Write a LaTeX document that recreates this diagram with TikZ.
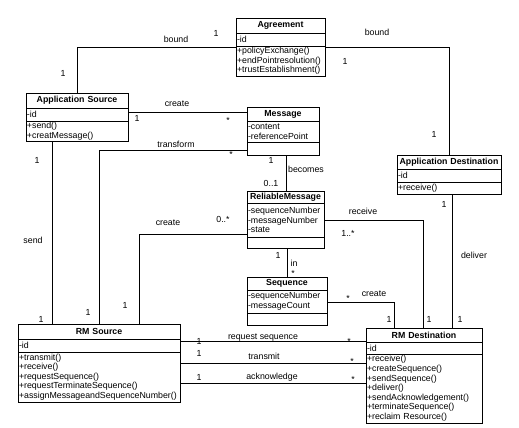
\documentclass[tikz,border=0pt]{standalone}
\usepackage{fontspec}
\setmainfont{Liberation Sans}
\usepackage{tikz}

\begin{document}
\begin{tikzpicture}[x=1pt, y=-1pt,
  every node/.style={outer sep=0pt, font=\fontsize{8.8}{9.6}\selectfont},
  head/.style={draw, line width=0.9pt, anchor=north west, inner sep=1pt, align=center, font=\bfseries\fontsize{8.8}{9.6}\selectfont},
  part/.style={draw, line width=0.9pt, anchor=north west, inner sep=1pt, align=left},
  lbl/.style={inner sep=0pt},
  link/.style={line width=0.7pt}]
\useasboundingbox (0,0) rectangle (519,428);

% classes
\node[head, text width=87pt, minimum height=15pt] (agr) at (236,18) {Agreement};
\node[part, text width=87pt, minimum height=13pt] (agr-a) at (agr.south west) {-id};
\node[part, text width=87pt, minimum height=30pt] (agr-m) at (agr-a.south west) {+policyExchange()\\+endPointresolution()\\+trustEstablishment()};

\node[head, text width=100pt, minimum height=15pt] (aps) at (26,93) {Application Source};
\node[part, text width=100pt, minimum height=13pt] (aps-a) at (aps.south west) {-id};
\node[part, text width=100pt, minimum height=20pt] (aps-m) at (aps-a.south west) {+send()\\+creatMessage()};

\node[head, text width=70pt, minimum height=14pt] (msg) at (247,107) {Message};
\node[part, text width=70pt, minimum height=21pt] (msg-a) at (msg.south west) {-content\\-referencePoint};
\node[part, text width=70pt, minimum height=13pt] (msg-m) at (msg-a.south west) {};

\node[head, text width=102pt, minimum height=14pt] (apd) at (397,155) {Application Destination};
\node[part, text width=102pt, minimum height=13pt] (apd-a) at (apd.south west) {-id};
\node[part, text width=102pt, minimum height=12pt] (apd-m) at (apd-a.south west) {+receive()};

\node[head, text width=75pt, minimum height=12pt] (rm) at (247,191) {ReliableMessage};
\node[part, text width=75pt, minimum height=34pt] (rm-a) at (rm.south west) {-sequenceNumber\\-messageNumber\\-state};
\node[part, text width=75pt, minimum height=11pt] (rm-m) at (rm-a.south west) {};

\node[head, text width=78pt, minimum height=13pt] (seq) at (247,277) {Sequence};
\node[part, text width=78pt, minimum height=23pt] (seq-a) at (seq.south west) {-sequenceNumber\\-messageCount};
\node[part, text width=78pt, minimum height=12pt] (seq-m) at (seq-a.south west) {};

\node[head, text width=160pt, minimum height=15pt] (rms) at (18,324) {RM Source};
\node[part, text width=160pt, minimum height=13pt] (rms-a) at (rms.south west) {-id};
\node[part, text width=160pt, minimum height=50pt] (rms-m) at (rms-a.south west) {+transmit()\\+receive()\\+requestSequence()\\+requestTerminateSequence()\\+assignMessageandSequenceNumber()};

\node[head, text width=114pt, minimum height=14pt] (rmd) at (366,328) {RM Destination};
\node[part, text width=114pt, minimum height=12pt] (rmd-a) at (rmd.south west) {-id};
\node[part, text width=114pt, minimum height=69pt] (rmd-m) at (rmd-a.south west) {+receive()\\+createSequence()\\+sendSequence()\\+deliver()\\+sendAcknowledgement()\\+terminateSequence()\\+reclaim Resource()};

% associations
\draw[link] (agr-m.west |- 0,47) -| (aps.north -| 77,0);
\draw[link] (agr-m.east |- 0,47) -| (apd.north -| 449,0);
\draw[link] (aps-a.east |- 0,112) -- (msg.west |- 0,112);
\draw[link] (msg-m.west |- 0,150) -| (rms.north -| 99,0);
\draw[link] (aps-m.south -| 52,0) -- (rms.north -| 52,0);
\draw[link] (rm-a.west |- 0,234) -| (rms.north -| 139,0);
\draw[link] (msg-m.south -| 286,0) -- (rm.north -| 286,0);
\draw[link] (rm-m.south -| 287,0) -- (seq.north -| 287,0);
\draw[link] (rm-a.east |- 0,220) -| (rmd.north -| 423,0);
\draw[link] (seq-a.east |- 0,302) -| (rmd.north -| 394,0);
\draw[link] (apd-m.south -| 452,0) -- (rmd.north -| 452,0);
\draw[link] (rms-a.east |- 0,341) -- (rmd.west |- 0,341);
\draw[link] (rms-m.east |- 0,363) -- (rmd-m.west |- 0,363);
\draw[link] (rms-m.east |- 0,383) -- (rmd-m.west |- 0,383);

% labels
\node[lbl] (b1) at (176,39) {bound};
\node[lbl] (b1s) at (216,33) {1};
\node[lbl] (b1t) at (63,73) {1};
\node[lbl] (b2) at (377,32) {bound};
\node[lbl] (b2s) at (345,61) {1};
\node[lbl] (b2t) at (434,134) {1};
\node[lbl] (c1) at (177,104) {create};
\node[lbl] (c1s) at (137,118) {1};
\node[lbl] (c1t) at (228,120) {*};
\node[lbl] (tf) at (176,144) {transform};
\node[lbl] (tfs) at (231,154) {*};
\node[lbl] (tft) at (88,312) {1};
\node[lbl] (sd) at (33,240) {send};
\node[lbl] (sds) at (37,160) {1};
\node[lbl] (sdt) at (41,319) {1};
\node[lbl] (c2) at (168,223) {create};
\node[lbl] (c2s) at (223,219) {0..*};
\node[lbl] (c2t) at (125,305) {1};
\node[lbl] (bc) at (306,169) {becomes};
\node[lbl] (bcs) at (271,160) {1};
\node[lbl] (bct) at (271,183) {0..1};
\node[lbl] (in) at (294,263) {in};
\node[lbl] (ins) at (278,255) {1};
\node[lbl] (int) at (293,273) {*};
\node[lbl] (rc) at (363,211) {receive};
\node[lbl] (rcs) at (348,233) {1..*};
\node[lbl] (rct) at (429,319) {1};
\node[lbl] (c3) at (374,294) {create};
\node[lbl] (c3s) at (348,298) {*};
\node[lbl] (c3t) at (389,319) {1};
\node[lbl] (dl) at (474,255) {deliver};
\node[lbl] (dls) at (444,204) {1};
\node[lbl] (dlt) at (460,319) {1};
\node[lbl] (rq) at (263,338) {request sequence};
\node[lbl] (rqs) at (199,341) {1};
\node[lbl] (rqt) at (349,341) {*};
\node[lbl] (tm) at (264,356) {transmit};
\node[lbl] (tms) at (199,353) {1};
\node[lbl] (tmt) at (352,361) {*};
\node[lbl] (ak) at (272,377) {acknowledge};
\node[lbl] (aks) at (199,377) {1};
\node[lbl] (akt) at (353,379) {*};
\end{tikzpicture}
\end{document}
